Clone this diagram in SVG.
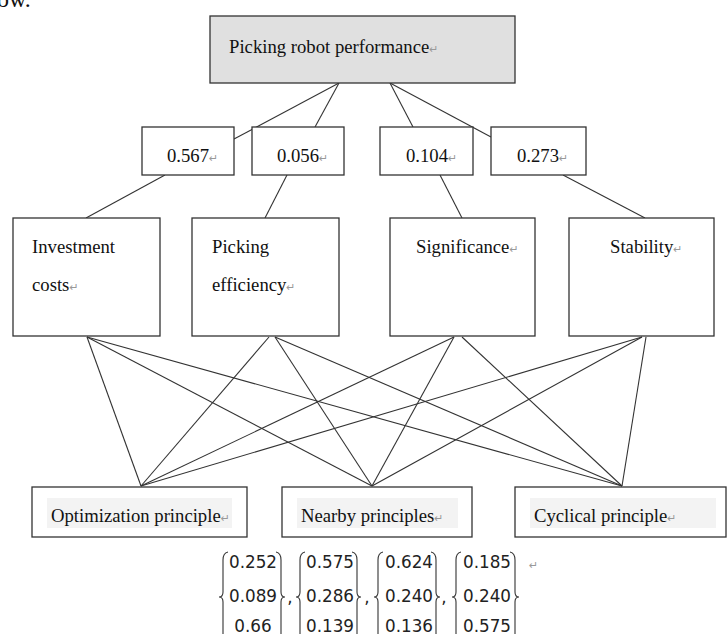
<svg xmlns="http://www.w3.org/2000/svg" width="727" height="634" viewBox="0 0 727 634">
<style>
  .box { fill: #ffffff; stroke: #333333; stroke-width: 1.3; }
  .top { fill: #e0e0e0; stroke: #333333; stroke-width: 1.3; }
  .inner { fill: #f3f3f3; stroke: none; }
  .lbl { font-family: "Liberation Serif", "Times New Roman", serif; font-size: 18.7px; fill: #111111; }
  .mark { font-family: "DejaVu Sans", sans-serif; font-size: 11px; fill: #999999; }
  .conn line { stroke: #333333; stroke-width: 1.1; }
  .num { font-family: "DejaVu Sans", "Liberation Sans", sans-serif; font-size: 16.8px; fill: #222222; text-anchor: middle; }
  .brace { fill: none; stroke: #333333; stroke-width: 1.1; }
</style>

<text x="-3" y="7" class="lbl" style="font-size:24px">ow.</text>

<g id="connectors" class="conn">
  <line x1="339" y1="83" x2="234" y2="139"/>
  <line x1="339" y1="83" x2="315" y2="127"/>
  <line x1="390" y1="83" x2="413" y2="127"/>
  <line x1="390" y1="83" x2="491" y2="137"/>
  <line x1="165" y1="175" x2="86" y2="218"/>
  <line x1="287" y1="175" x2="265" y2="218"/>
  <line x1="440" y1="175" x2="462" y2="218"/>
  <line x1="563" y1="175" x2="645" y2="218"/>
  <line x1="87" y1="337" x2="141" y2="486"/>
  <line x1="87" y1="337" x2="372" y2="486"/>
  <line x1="87" y1="337" x2="622" y2="486"/>
  <line x1="269" y1="337" x2="141" y2="486"/>
  <line x1="275" y1="337" x2="372" y2="486"/>
  <line x1="275" y1="337" x2="622" y2="486"/>
  <line x1="454" y1="337" x2="141" y2="486"/>
  <line x1="454" y1="337" x2="372" y2="486"/>
  <line x1="462" y1="337" x2="622" y2="486"/>
  <line x1="642" y1="337" x2="141" y2="486"/>
  <line x1="642" y1="337" x2="372" y2="486"/>
  <line x1="646" y1="337" x2="622" y2="486"/>
</g>

<g id="goal">
  <rect x="210" y="16" width="305" height="67" class="top"/>
  <text x="229" y="53" class="lbl">Picking robot performance<tspan class="mark">↵</tspan></text>
</g>

<g id="w1">
  <rect x="142" y="127" width="92" height="48" class="box"/>
  <text x="167" y="162" class="lbl">0.567<tspan class="mark">↵</tspan></text>
</g>
<g id="w2">
  <rect x="252" y="127" width="92" height="48" class="box"/>
  <text x="277" y="162" class="lbl">0.056<tspan class="mark">↵</tspan></text>
</g>
<g id="w3">
  <rect x="380" y="127" width="93" height="48" class="box"/>
  <text x="406" y="162" class="lbl">0.104<tspan class="mark">↵</tspan></text>
</g>
<g id="w4">
  <rect x="491" y="127" width="95" height="48" class="box"/>
  <text x="517" y="162" class="lbl">0.273<tspan class="mark">↵</tspan></text>
</g>

<g id="c1">
  <rect x="13" y="218" width="147" height="118" class="box"/>
  <text x="32" y="253" class="lbl">Investment</text>
  <text x="32" y="291" class="lbl">costs<tspan class="mark">↵</tspan></text>
</g>
<g id="c2">
  <rect x="192" y="218" width="147" height="118" class="box"/>
  <text x="212" y="253" class="lbl">Picking</text>
  <text x="212" y="291" class="lbl">efficiency<tspan class="mark">↵</tspan></text>
</g>
<g id="c3">
  <rect x="390" y="218" width="145" height="118" class="box"/>
  <text x="416" y="253" class="lbl">Significance<tspan class="mark">↵</tspan></text>
</g>
<g id="c4">
  <rect x="569" y="218" width="145" height="118" class="box"/>
  <text x="610" y="253" class="lbl">Stability<tspan class="mark">↵</tspan></text>
</g>

<g id="p1">
  <rect x="32" y="487" width="215" height="50" class="box"/>
  <rect x="47" y="498" width="185" height="30" class="inner"/>
  <text x="51" y="522" class="lbl">Optimization principle<tspan class="mark">↵</tspan></text>
</g>
<g id="p2">
  <rect x="282" y="487" width="190" height="50" class="box"/>
  <rect x="297" y="498" width="161" height="30" class="inner"/>
  <text x="301" y="522" class="lbl">Nearby principles<tspan class="mark">↵</tspan></text>
</g>
<g id="p3">
  <rect x="515" y="487" width="211" height="50" class="box"/>
  <rect x="530" y="498" width="186" height="30" class="inner"/>
  <text x="534" y="522" class="lbl">Cyclical principle<tspan class="mark">↵</tspan></text>
</g>

<g id="vectors">
  <path class="brace" d="M228,552 Q223,553 223,560 L223,592 Q223,597 219,597 Q223,597 223,602 L223,640"/>
  <path class="brace" d="M276,552 Q281,553 281,560 L281,592 Q281,597 285,597 Q281,597 281,602 L281,640"/>
  <text x="253" y="568" class="num">0.252</text>
  <text x="253" y="602" class="num">0.089</text>
  <text x="253" y="632" class="num">0.66</text>
  <text x="290" y="603" class="num">,</text>

  <path class="brace" d="M305,552 Q300,553 300,560 L300,592 Q300,597 296,597 Q300,597 300,602 L300,640"/>
  <path class="brace" d="M352,552 Q357,553 357,560 L357,592 Q357,597 361,597 Q357,597 357,602 L357,640"/>
  <text x="330" y="568" class="num">0.575</text>
  <text x="330" y="602" class="num">0.286</text>
  <text x="330" y="632" class="num">0.139</text>
  <text x="367" y="603" class="num">,</text>

  <path class="brace" d="M383,552 Q378,553 378,560 L378,592 Q378,597 374,597 Q378,597 378,602 L378,640"/>
  <path class="brace" d="M431,552 Q436,553 436,560 L436,592 Q436,597 440,597 Q436,597 436,602 L436,640"/>
  <text x="409" y="568" class="num">0.624</text>
  <text x="409" y="602" class="num">0.240</text>
  <text x="409" y="632" class="num">0.136</text>
  <text x="444" y="603" class="num">,</text>

  <path class="brace" d="M461,552 Q456,553 456,560 L456,592 Q456,597 452,597 Q456,597 456,602 L456,640"/>
  <path class="brace" d="M510,552 Q515,553 515,560 L515,592 Q515,597 519,597 Q515,597 515,602 L515,640"/>
  <text x="487" y="568" class="num">0.185</text>
  <text x="487" y="602" class="num">0.240</text>
  <text x="487" y="632" class="num">0.575</text>
  <text x="529" y="569" class="mark">↵</text>
</g>
</svg>
